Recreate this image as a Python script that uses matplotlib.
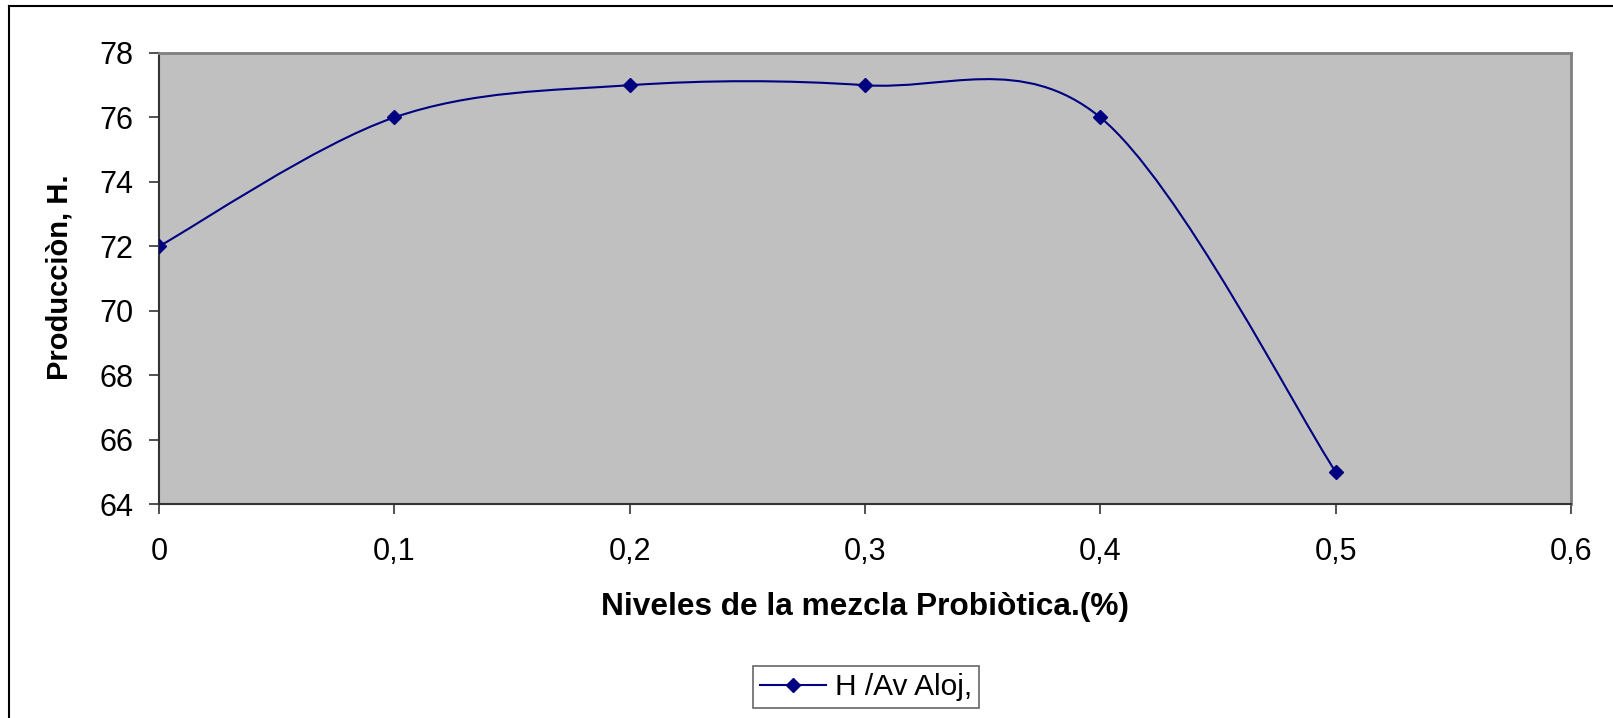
import matplotlib
matplotlib.use("Agg")
import matplotlib.pyplot as plt
import numpy as np
from matplotlib.path import Path
from matplotlib.patches import PathPatch
from matplotlib.lines import Line2D

# ---- data ----
niveles = [0.0, 0.1, 0.2, 0.3, 0.4, 0.5]
produccion = [72, 76, 77, 77, 76, 65]
series_name = "H /Av Aloj,"
x_ticks = [0.0, 0.1, 0.2, 0.3, 0.4, 0.5, 0.6]
x_tick_labels = ["0", "0,1", "0,2", "0,3", "0,4", "0,5", "0,6"]
y_ticks = [64, 66, 68, 70, 72, 74, 76, 78]
y_tick_labels = ["64", "66", "68", "70", "72", "74", "76", "78"]
x_title = "Niveles de la mezcla Probiòtica.(%)"
y_title = "Producciòn, H."

plt.rcParams['font.family'] = ['Liberation Sans', 'DejaVu Sans']

W, H, DPI = 1613, 718, 100
fig = plt.figure(figsize=(W / DPI, H / DPI), dpi=DPI)
fig.patch.set_facecolor('white')

def px(x0, y0, x1, y1):
    return [x0 / W, 1 - y1 / H, (x1 - x0) / W, (y1 - y0) / H]

ax = fig.add_axes(px(159, 53, 1571, 504))
ax.set_facecolor('#C0C0C0')
ax.set_xlim(0, 0.6)
ax.set_ylim(64, 78)

line_color = '#000080'

# Excel-style smoothed line (Catmull-Rom as cubic Bezier segments)
xs = np.array(niveles, dtype=float)
ys = np.array(produccion, dtype=float)
pts = np.column_stack([xs, ys])
n = len(pts)
verts = [pts[0]]
codes = [Path.MOVETO]
for i in range(n - 1):
    p_prev = pts[i - 1] if i > 0 else pts[i]
    p0 = pts[i]
    p1 = pts[i + 1]
    p_next = pts[i + 2] if i + 2 < n else pts[i + 1]
    c1 = p0 + (p1 - p_prev) / 6.0
    c2 = p1 - (p_next - p0) / 6.0
    verts += [c1, c2, p1]
    codes += [Path.CURVE4] * 3
ax.add_patch(PathPatch(Path(verts, codes), facecolor='none', edgecolor=line_color,
                       lw=1.5, zorder=3))
ax.plot(niveles, produccion, linestyle='none', marker='D', markersize=7.5,
        color=line_color, zorder=4)

ax.set_xticks(x_ticks)
ax.set_xticklabels(x_tick_labels)
ax.set_yticks(y_ticks)
ax.set_yticklabels(y_tick_labels)
ax.tick_params(axis='both', direction='out', length=7.2, width=1.2, color='#333333',
               labelsize=22, labelcolor='black')
ax.tick_params(axis='x', pad=16.5)
ax.tick_params(axis='y', pad=11.5)

for s in ['left', 'bottom']:
    ax.spines[s].set_color('#333333')
    ax.spines[s].set_linewidth(1.5)
for s in ['top', 'right']:
    ax.spines[s].set_color('#808080')
    ax.spines[s].set_linewidth(2)

fig.text(865 / W, 1 - 607 / H, x_title, ha='center', va='center',
         fontsize=22.8, fontweight='bold')
fig.text(60 / W, 1 - 277 / H, y_title, ha='center', va='center', rotation=90,
         fontsize=21, fontweight='bold')

handle = Line2D([], [], color=line_color, lw=1.5, marker='D', markersize=7.5)
leg = fig.legend([handle], [series_name], loc='center',
                 bbox_to_anchor=(866 / W, 1 - 687 / H), fontsize=21.5,
                 frameon=True, fancybox=False, edgecolor='#404040',
                 handlelength=2.2, handletextpad=0.3, borderpad=0.25,
                 borderaxespad=0)
leg.get_frame().set_linewidth(1.2)

# outer chart border (top and left visible)
fig.add_artist(Line2D([8.5 / W, 8.5 / W], [0, 1 - 5.5 / H], transform=fig.transFigure,
                      color='black', lw=1.5))
fig.add_artist(Line2D([8.5 / W, 1], [1 - 5.5 / H, 1 - 5.5 / H], transform=fig.transFigure,
                      color='black', lw=1.5))

fig.savefig('out.png', dpi=DPI)
